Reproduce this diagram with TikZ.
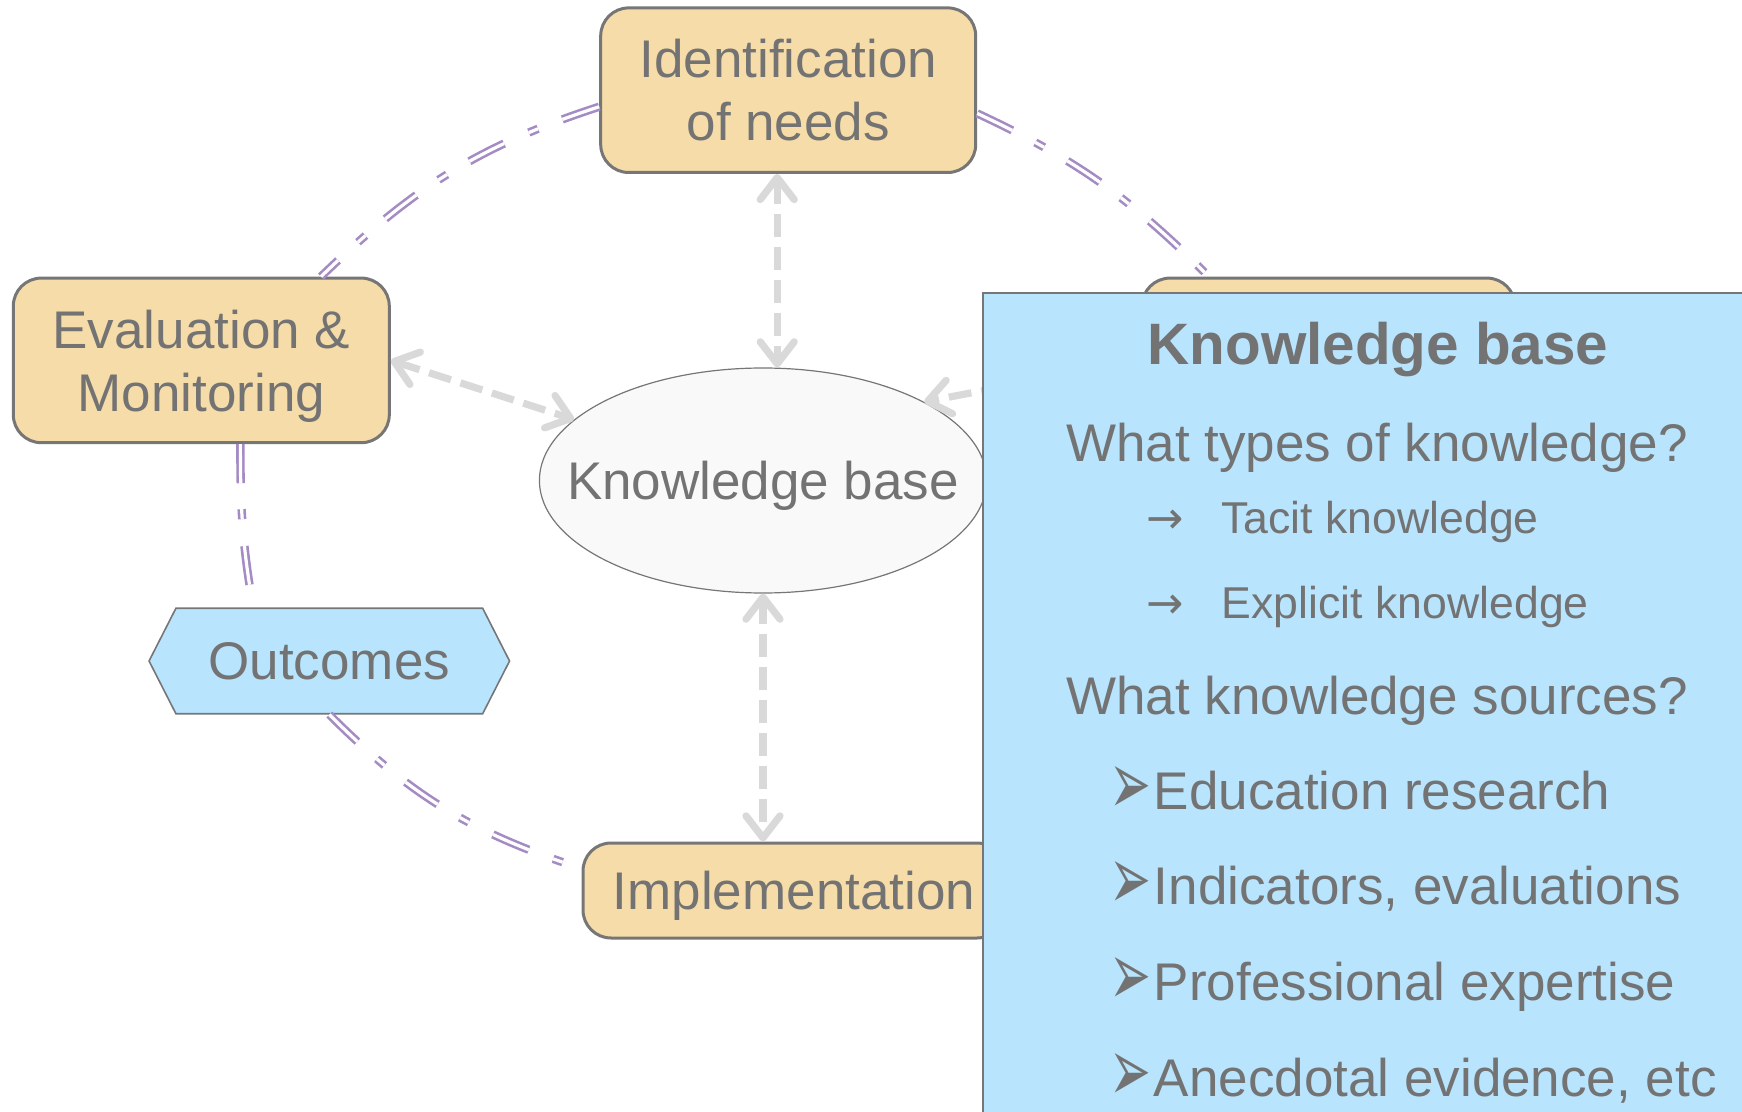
\documentclass[tikz,border=0pt]{standalone}
\usepackage{fontspec}
\setmainfont{Liberation Sans}
\newfontfamily\dejavu{DejaVu Sans}
\usepackage{tikz}
\usetikzlibrary{arrows.meta,shapes.geometric,shapes.symbols}
\definecolor{txtgray}{HTML}{737373}
\definecolor{bordergray}{HTML}{767676}
\definecolor{stagefill}{HTML}{F6DCA9}
\definecolor{lightblue}{HTML}{B8E4FD}
\definecolor{kbfill}{HTML}{F9F9F9}
\definecolor{arrowgray}{HTML}{D9D9D9}
\definecolor{lavender}{HTML}{A48BC3}
\newcommand{\bul}{\llap{\makebox[22pt][l]{\raisebox{-2.5pt}{\resizebox*{21pt}{24pt}{\raisebox{\depth}{\dejavu ➢}}}}}}
\newcommand{\arr}{\llap{\makebox[37.5pt][l]{\dejavu →}}}

\begin{document}
\begin{tikzpicture}[x=0.5pt, y=0.5pt, font=\fontsize{26.5}{31.5}\selectfont, text=txtgray,
	stage/.style={rectangle, rounded corners=14pt, draw=bordergray, line width=1.5pt, fill=stagefill, inner sep=0pt, align=center, text depth=0pt},
	cycarc/.style={draw=lavender, double=white, line width=1.3pt, double distance=1.6pt, dash pattern=on 19.5pt off 13pt on 5pt off 13.5pt},
	kbarrow/.style={<->, >={Straight Barb[length=11pt, width=17pt, round]}, draw=arrowgray, line width=3.6pt, dash pattern=on 11.5pt off 5pt},
	item/.style={anchor=base west, inner sep=0pt}]
				\useasboundingbox (0,0) rectangle (1742,-1112);

				\node[stage, minimum width=187.5pt, minimum height=82.3pt] (IN) at (788.2,-90.2) {Identification\\of needs};
				\node[stage, minimum width=188pt, minimum height=82.3pt]   (EM) at (201.3,-360.4) {Evaluation \&\\Monitoring};
				\node[stage, minimum width=186.5pt, minimum height=82.3pt] (DS) at (1328.5,-360.4) {};
				\node[stage, minimum width=211pt, minimum height=47.5pt]   (IM) at (794,-890.5) {Implementation};
				\node[signal, signal to=west and east, signal pointer angle=126, draw=bordergray, line width=0.8pt, fill=lightblue,
					minimum width=180.25pt, minimum height=52.75pt, inner sep=0pt] (OC) at (329.3,-661) {Outcomes};
				\node[ellipse, draw=bordergray, line width=0.6pt, fill=kbfill, minimum width=223.6pt, minimum height=112.5pt,
					inner xsep=-20pt, inner ysep=0pt, text depth=0pt] (KB) at (763,-480.5) {Knowledge base};

				% cycle
				\path	(IN.185)	edge[cycarc, out=198, in=44] (EM.35)
						(IN.-7)		edge[cycarc, out=-25, in=135] (DS.145)
						(EM.-65)	edge[cycarc, out=-90, in=100] ([xshift=-38pt]OC.north)
						(OC.south)	edge[cycarc, out=-45, in=162] ([yshift=11pt]IM.west);

				% links to the knowledge base
				\coordinate (INs) at ([xshift=-5.5pt]IN.south);
				\path	(INs)		edge[kbarrow] (INs |- KB.north)
						(EM.east)	edge[kbarrow] (KB)
						(DS.west)	edge[kbarrow] (KB.26)
						(KB.south)	edge[kbarrow] (KB.south |- IM.north);

				% panel
				\draw[draw=bordergray, line width=1pt, fill=lightblue] (983.4,-292.6) rectangle (1760,-1130);
				\node[anchor=base, inner sep=0pt, font=\fontsize{29.2}{35}\selectfont\bfseries] (PT) at (1378,-364.6) {Knowledge base};
				\node[anchor=base, inner sep=0pt] (Q1) at (1377,-461.5) {What types of knowledge?};
				\node[item, font=\fontsize{22.3}{27}\selectfont] (T1) at (1221,-534) {\arr Tacit knowledge};
				\node[item, font=\fontsize{22.3}{27}\selectfont] (T2) at (1221.5,-619) {\arr Explicit knowledge};
				\node[anchor=base, inner sep=0pt] (Q2) at (1377,-714) {What knowledge sources?};
				\node[item] (S1) at (1153.5,-809) {\bul Education research};
				\node[item] (S2) at (1153.5,-904.5) {\bul Indicators, evaluations};
				\node[item] (S3) at (1153.5,-1000.5) {\bul Professional expertise};
				\node[item] (S4) at (1153.5,-1096) {\bul Anecdotal evidence, etc};

			\end{tikzpicture}
\end{document}
